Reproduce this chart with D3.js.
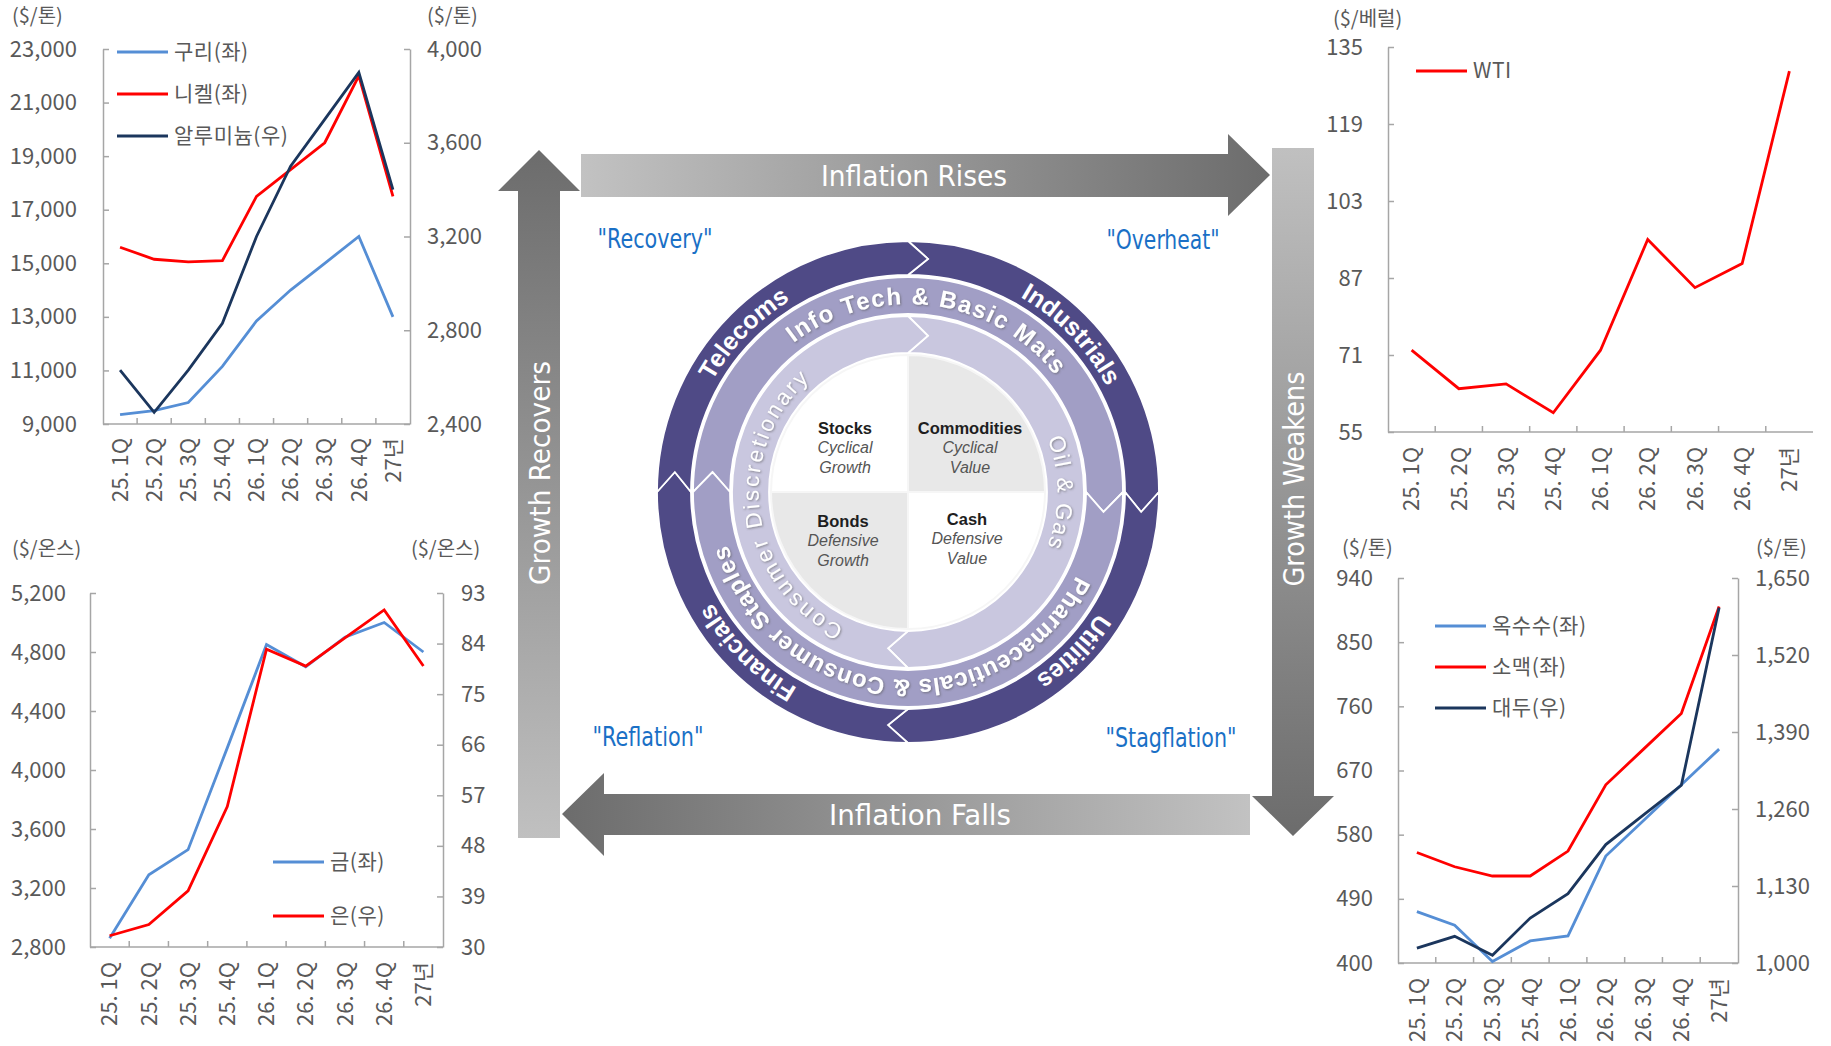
<!DOCTYPE html>
<html>
<head>
<meta charset="utf-8">
<script src="https://cdn.jsdelivr.net/npm/d3@7"></script>
<style>
  html, body { margin: 0; padding: 0; background: #fff; }
  svg { display: block; }
</style>
</head>
<body>
<div class="chart-container"></div>
<script>
////////////////////////////////////////////////////////////
//// Data //////////////////////////////////////////////////
////////////////////////////////////////////////////////////
const categories = ["25. 1Q", "25. 2Q", "25. 3Q", "25. 4Q", "26. 1Q", "26. 2Q", "26. 3Q", "26. 4Q", "27년"];

// 비철금속 ($/톤)
const copper = [9350, 9500, 9800, 11150, 12850, 14000, 15000, 16000, 13000];
const nickel = [15600, 15150, 15050, 15100, 17500, 18500, 19500, 22000, 17500];
const aluminum = [2630, 2450, 2630, 2830, 3200, 3500, 3700, 3900, 3400];
const metalLeftTicks = [9000, 11000, 13000, 15000, 17000, 19000, 21000, 23000];
const metalRightTicks = [2400, 2800, 3200, 3600, 4000];

// 귀금속 ($/온스)
const gold = [2860, 3290, 3460, 4150, 4850, 4700, 4900, 5000, 4800];
const silver = [32, 34, 40, 55, 83, 80, 85, 90, 80];
const goldTicks = [2800, 3200, 3600, 4000, 4400, 4800, 5200];
const silverTicks = [30, 39, 48, 57, 66, 75, 84, 93];

// 원유 ($/베럴)
const wti = [72, 64, 65, 59, 72, 95, 85, 90, 130];
const wtiTicks = [55, 71, 87, 103, 119, 135];

// 곡물 ($/톤)
const corn = [472, 453, 402, 431, 438, 550, 600, 650, 700];
const wheat = [555, 535, 522, 522, 557, 650, 700, 750, 900];
const soybean = [1025, 1045, 1013, 1076, 1117, 1200, 1250, 1300, 1600];
const grainLeftTicks = [400, 490, 580, 670, 760, 850, 940];
const grainRightTicks = [1000, 1130, 1260, 1390, 1520, 1650];

// Investment clock labels
const outerSectors = ["Industrials", "Utilities", "Financials", "Telecoms"];
const middleSectors = ["Info Tech & Basic Mats", "Pharmaceuticals & Consumer Staples"];
const innerSectors = ["Oil & Gas", "Consumer Discretionary"];
const assets = [
  ["Stocks", "Cyclical", "Growth"],
  ["Commodities", "Cyclical", "Value"],
  ["Bonds", "Defensive", "Growth"],
  ["Cash", "Defensive", "Value"]
];
const phases = ["\"Recovery\"", "\"Overheat\"", "\"Reflation\"", "\"Stagflation\""];

(function() {
  ////////////////////////////////////////////////////////////
  //// Setup /////////////////////////////////////////////////
  ////////////////////////////////////////////////////////////
  const W = 1831;
  const H = 1046;
  const KR = '"Noto Sans CJK KR", "Noto Sans", sans-serif';
  const SANS = '"Liberation Sans", Arial, sans-serif';
  const COND = '"DejaVu Sans Condensed", "Liberation Sans Narrow", sans-serif';
  const textColor = "#595959";
  const axisColor = "#a6a6a6";
  const blue = "#558ed5";
  const red = "#ff0000";
  const navy = "#1b365d";
  const fmt = d3.format(",");

  const svg = d3
    .select(".chart-container")
    .append("svg")
    .attr("width", W)
    .attr("height", H)
    .attr("viewBox", [0, 0, W, H]);

  svg.append("rect").attr("width", W).attr("height", H).attr("fill", "#fff");

  const defs = svg.append("defs");
  function gradient(id, x1, y1, x2, y2, c1, c2) {
    const lg = defs
      .append("linearGradient")
      .attr("id", id)
      .attr("x1", x1)
      .attr("y1", y1)
      .attr("x2", x2)
      .attr("y2", y2);
    lg.append("stop").attr("offset", "0%").attr("stop-color", c1);
    lg.append("stop").attr("offset", "100%").attr("stop-color", c2);
  }
  gradient("grad-right", 0, 0, 1, 0, "#c2c2c2", "#6c6c6c");
  gradient("grad-left", 0, 0, 1, 0, "#6c6c6c", "#c2c2c2");
  gradient("grad-down", 0, 0, 0, 1, "#c0c0c0", "#6c6c6c");
  gradient("grad-up", 0, 0, 0, 1, "#6c6c6c", "#c0c0c0");

  const shadow = defs
    .append("filter")
    .attr("id", "soft-shadow")
    .attr("x", "-10%")
    .attr("y", "-10%")
    .attr("width", "120%")
    .attr("height", "120%");
  shadow
    .append("feDropShadow")
    .attr("dx", 1)
    .attr("dy", 1)
    .attr("stdDeviation", 0.8)
    .attr("flood-color", "#555")
    .attr("flood-opacity", 0.6);

  ////////////////////////////////////////////////////////////
  //// Line charts ///////////////////////////////////////////
  ////////////////////////////////////////////////////////////
  function styleAxis(g) {
    g.select(".domain").attr("stroke", axisColor).attr("stroke-width", 1.5);
    g.selectAll(".tick line").attr("stroke", axisColor).attr("stroke-width", 1.5);
    g.selectAll(".tick text")
      .attr("fill", textColor)
      .style("font-family", KR)
      .style("font-size", "22px");
  }

  function drawChart(o) {
    const g = svg.append("g").attr("class", "line-chart");
    const x = d3.scaleBand().domain(categories).range([o.x0, o.x1]);
    const bw = x.bandwidth();
    const yLeft = d3
      .scaleLinear()
      .domain(d3.extent(o.leftTicks))
      .range([o.y1, o.y0]);
    const yRight = o.rightTicks
      ? d3.scaleLinear().domain(d3.extent(o.rightTicks)).range([o.y1, o.y0])
      : null;

    g.append("g")
      .attr("transform", `translate(${o.x0},0)`)
      .call(
        d3
          .axisLeft(yLeft)
          .tickValues(o.leftTicks)
          .tickFormat(fmt)
          .tickSizeInner(-6)
          .tickSizeOuter(0)
          .tickPadding(o.padLeft)
      )
      .call(styleAxis);

    if (yRight) {
      g.append("g")
        .attr("transform", `translate(${o.x1},0)`)
        .call(
          d3
            .axisRight(yRight)
            .tickValues(o.rightTicks)
            .tickFormat(fmt)
            .tickSizeInner(-6)
            .tickSizeOuter(0)
            .tickPadding(o.padRight)
        )
        .call(styleAxis);
    }

    // category axis: ticks sit between the bands
    const gx = g.append("g").attr("transform", `translate(0,${o.y1})`);
    gx.append("line")
      .attr("x1", o.x0)
      .attr("x2", o.x1)
      .attr("stroke", axisColor)
      .attr("stroke-width", 1.5);
    gx.selectAll("line.tick")
      .data(categories.slice(1))
      .join("line")
      .attr("class", "tick")
      .attr("x1", d => x(d))
      .attr("x2", d => x(d))
      .attr("y1", 0)
      .attr("y2", -6)
      .attr("stroke", axisColor)
      .attr("stroke-width", 1.5);
    gx.selectAll("text")
      .data(categories)
      .join("text")
      .attr("transform", d => `translate(${x(d) + bw / 2},${o.labelGap}) rotate(-90)`)
      .attr("text-anchor", "end")
      .attr("dy", "0.35em")
      .attr("fill", textColor)
      .style("font-family", KR)
      .style("font-size", "22px")
      .text(d => d);

    // units
    o.units.forEach(u => {
      g.append("text")
        .attr("x", u.x)
        .attr("y", u.y)
        .attr("dy", "0.35em")
        .attr("fill", textColor)
        .style("font-family", KR)
        .style("font-size", "20px")
        .text(u.text);
    });

    // series
    o.series.forEach(s => {
      const y = s.axis === "right" ? yRight : yLeft;
      g.append("path")
        .datum(s.values)
        .attr("fill", "none")
        .attr("stroke", s.color)
        .attr("stroke-width", 2.8)
        .attr("stroke-linejoin", "miter")
        .attr("d", d3.line().x((d, i) => x(categories[i]) + bw / 2).y(d => y(d)));
    });

    // legend
    const gl = g
      .append("g")
      .selectAll("g")
      .data(o.series)
      .join("g")
      .attr("transform", (d, i) => `translate(${o.legend.x},${o.legend.y + i * o.legend.dy})`);
    gl.append("line")
      .attr("x2", 51)
      .attr("stroke", d => d.color)
      .attr("stroke-width", 3);
    gl.append("text")
      .attr("x", 57)
      .attr("dy", "0.35em")
      .attr("fill", textColor)
      .style("font-family", KR)
      .style("font-size", "21px")
      .style("letter-spacing", "0.5px")
      .text(d => d.name);
  }

  drawChart({
    x0: 103, x1: 410, y0: 49, y1: 424,
    leftTicks: metalLeftTicks, rightTicks: metalRightTicks,
    padLeft: 26, padRight: 17, labelGap: 14,
    units: [{ x: 12, y: 16, text: "($/톤)" }, { x: 427, y: 16, text: "($/톤)" }],
    series: [
      { name: "구리(좌)", values: copper, color: blue, axis: "left" },
      { name: "니켈(좌)", values: nickel, color: red, axis: "left" },
      { name: "알루미늄(우)", values: aluminum, color: navy, axis: "right" }
    ],
    legend: { x: 117, y: 52, dy: 42 }
  });

  drawChart({
    x0: 90, x1: 443, y0: 593, y1: 947,
    leftTicks: goldTicks, rightTicks: silverTicks,
    padLeft: 24, padRight: 18, labelGap: 15,
    units: [{ x: 12, y: 549, text: "($/온스)" }, { x: 411, y: 549, text: "($/온스)" }],
    series: [
      { name: "금(좌)", values: gold, color: blue, axis: "left" },
      { name: "은(우)", values: silver, color: red, axis: "right" }
    ],
    legend: { x: 273, y: 862, dy: 54 }
  });

  drawChart({
    x0: 1388, x1: 1813, y0: 47, y1: 432,
    leftTicks: wtiTicks, rightTicks: null,
    padLeft: 25, padRight: 0, labelGap: 15,
    units: [{ x: 1333, y: 19, text: "($/베럴)" }],
    series: [{ name: "WTI", values: wti, color: red, axis: "left" }],
    legend: { x: 1416, y: 71, dy: 0 }
  });

  drawChart({
    x0: 1398, x1: 1738, y0: 578, y1: 963,
    leftTicks: grainLeftTicks, rightTicks: grainRightTicks,
    padLeft: 25, padRight: 17, labelGap: 15,
    units: [{ x: 1342, y: 548, text: "($/톤)" }, { x: 1756, y: 548, text: "($/톤)" }],
    series: [
      { name: "옥수수(좌)", values: corn, color: blue, axis: "left" },
      { name: "소맥(좌)", values: wheat, color: red, axis: "left" },
      { name: "대두(우)", values: soybean, color: navy, axis: "right" }
    ],
    legend: { x: 1435, y: 626, dy: 41 }
  });

  ////////////////////////////////////////////////////////////
  //// Cycle arrows //////////////////////////////////////////
  ////////////////////////////////////////////////////////////
  const arrows = [
    { fill: "url(#grad-right)", pts: [[581, 154], [1228, 154], [1228, 134], [1270, 175], [1228, 216], [1228, 197], [581, 197]] },
    { fill: "url(#grad-down)", pts: [[1272, 148], [1314, 148], [1314, 796], [1334, 796], [1293, 836], [1252, 796], [1272, 796]] },
    { fill: "url(#grad-left)", pts: [[1250, 794], [604, 794], [604, 773], [562, 814], [604, 856], [604, 835], [1250, 835]] },
    { fill: "url(#grad-up)", pts: [[518, 838], [518, 191], [498, 191], [539, 150], [580, 191], [560, 191], [560, 838]] }
  ];
  svg.append("g")
    .attr("class", "arrows")
    .selectAll("path")
    .data(arrows)
    .join("path")
    .attr("d", d => "M" + d.pts.join("L") + "Z")
    .attr("fill", d => d.fill);

  const arrowText = [
    { text: "Inflation Rises", x: 914, y: 176, rot: 0, len: 186 },
    { text: "Growth Weakens", x: 1294, y: 479, rot: -90, len: 215 },
    { text: "Inflation Falls", x: 920, y: 815, rot: 0, len: 182 },
    { text: "Growth Recovers", x: 540, y: 473, rot: -90, len: 224 }
  ];
  svg.append("g")
    .selectAll("text")
    .data(arrowText)
    .join("text")
    .attr("transform", d => `translate(${d.x},${d.y}) rotate(${d.rot})`)
    .attr("x", d => -d.len / 2)
    .attr("dy", "0.36em")
    .attr("textLength", d => d.len)
    .attr("lengthAdjust", "spacingAndGlyphs")
    .attr("fill", "#fff")
    .style("font-family", COND)
    .style("font-stretch", "condensed")
    .style("font-size", "29px")
    .text(d => d.text);

  const phasePos = [
    { x: 655, y: 239, len: 115 },
    { x: 1163, y: 240, len: 113 },
    { x: 648, y: 737, len: 111 },
    { x: 1171, y: 738, len: 131 }
  ];
  svg.append("g")
    .selectAll("text")
    .data(phases)
    .join("text")
    .attr("x", (d, i) => phasePos[i].x - phasePos[i].len / 2)
    .attr("y", (d, i) => phasePos[i].y)
    .attr("dy", "0.36em")
    .attr("textLength", (d, i) => phasePos[i].len)
    .attr("lengthAdjust", "spacingAndGlyphs")
    .attr("fill", "#1a70c6")
    .style("font-family", COND)
    .style("font-stretch", "condensed")
    .style("font-size", "26px")
    .text(d => d);

  ////////////////////////////////////////////////////////////
  //// Investment clock wheel ////////////////////////////////
  ////////////////////////////////////////////////////////////
  const cx = 908;
  const cy = 492;
  const tipPx = 20;

  function pt(r, deg) {
    const a = (deg * Math.PI) / 180;
    return [cx + r * Math.sin(a), cy - r * Math.cos(a)];
  }

  function segPath(r0, r1, a0, a1) {
    const rm = (r0 + r1) / 2;
    const d = (tipPx / rm) * (180 / Math.PI);
    const large = a1 - a0 > 180 ? 1 : 0;
    return (
      `M${pt(r1, a0)} A${r1},${r1} 0 ${large} 1 ${pt(r1, a1)}` +
      ` L${pt(rm, a1 + d)} L${pt(r0, a1)}` +
      ` A${r0},${r0} 0 ${large} 0 ${pt(r0, a0)} L${pt(rm, a0 + d)} Z`
    );
  }

  const rings = [
    {
      r0: 217, r1: 251, fill: "#4f4a86", font: 25, weight: "bold", filter: null,
      segs: [[0, 90], [90, 180], [180, 270], [270, 360]],
      labels: outerSectors, centers: [46, 134, 225, 314], lens: [null, null, null, null]
    },
    {
      r0: 178, r1: 215, fill: "#a19ec5", font: 24, weight: "bold", filter: "url(#soft-shadow)",
      segs: [[270, 450], [90, 270]],
      labels: middleSectors, centers: [7, 185], lens: [292, 450]
    },
    {
      r0: 139, r1: 176, fill: "#c9c7df", font: 22.5, weight: "normal", filter: "url(#soft-shadow)",
      segs: [[0, 180], [180, 360]],
      labels: innerSectors, centers: [90, 262], lens: [110, 295]
    }
  ];

  const gWheel = svg.append("g").attr("class", "wheel");
  gWheel.append("circle").attr("cx", cx).attr("cy", cy).attr("r", 253).attr("fill", "#fff");

  rings.forEach((ring, ri) => {
    gWheel.append("g")
      .selectAll("path")
      .data(ring.segs)
      .join("path")
      .attr("d", d => segPath(ring.r0, ring.r1, d[0], d[1]))
      .attr("fill", ring.fill)
      .attr("stroke", "#fff")
      .attr("stroke-width", 1.8);

    const rb = (ring.r0 + ring.r1) / 2 - ring.font * 0.36;
    ring.labels.forEach((label, li) => {
      const c = ring.centers[li];
      const id = `ring-${ri}-${li}`;
      defs.append("path")
        .attr("id", id)
        .attr(
          "d",
          `M${pt(rb, c - 180)} A${rb},${rb} 0 1 1 ${pt(rb, c)} A${rb},${rb} 0 1 1 ${pt(rb, c + 180)}`
        );
      const tp = gWheel
        .append("text")
        .attr("fill", "#fff")
        .attr("filter", ring.filter)
        .style("font-family", SANS)
        .style("font-size", ring.font + "px")
        .style("font-weight", ring.weight)
        .append("textPath")
        .attr("href", "#" + id)
        .attr("startOffset", "50%")
        .attr("text-anchor", "middle")
        .text(label);
      if (ring.lens[li]) {
        tp.attr("textLength", ring.lens[li]).attr("lengthAdjust", "spacing");
      }
    });
  });

  // centre quadrants
  const quadArc = d3.arc().innerRadius(0).outerRadius(137);
  const quadFill = ["#ffffff", "#e8e8e8", "#ffffff", "#e8e8e8"];
  gWheel.append("g")
    .attr("transform", `translate(${cx},${cy})`)
    .selectAll("path")
    .data(d3.range(4))
    .join("path")
    .attr("d", i => quadArc({ startAngle: (i - 1) * Math.PI / 2, endAngle: i * Math.PI / 2 }))
    .attr("fill", i => quadFill[i])
    .attr("stroke", "#f6f6f6")
    .attr("stroke-width", 2);

  const assetPos = [
    [845, 428], [970, 428], [843, 521], [967, 519]
  ];
  const gAssets = gWheel.append("g");
  assets.forEach((d, i) => {
    d.forEach((line, j) => {
      gAssets.append("text")
        .attr("x", assetPos[i][0])
        .attr("y", assetPos[i][1] + j * 19.5)
        .attr("dy", "0.35em")
        .attr("text-anchor", "middle")
        .attr("fill", j === 0 ? "#1e1e1e" : "#555")
        .style("font-family", SANS)
        .style("font-weight", j === 0 ? "bold" : "normal")
        .style("font-style", j === 0 ? "normal" : "italic")
        .style("font-size", j === 0 ? "16.5px" : "16px")
        .text(line);
    });
  });
})();
</script>
</body>
</html>
